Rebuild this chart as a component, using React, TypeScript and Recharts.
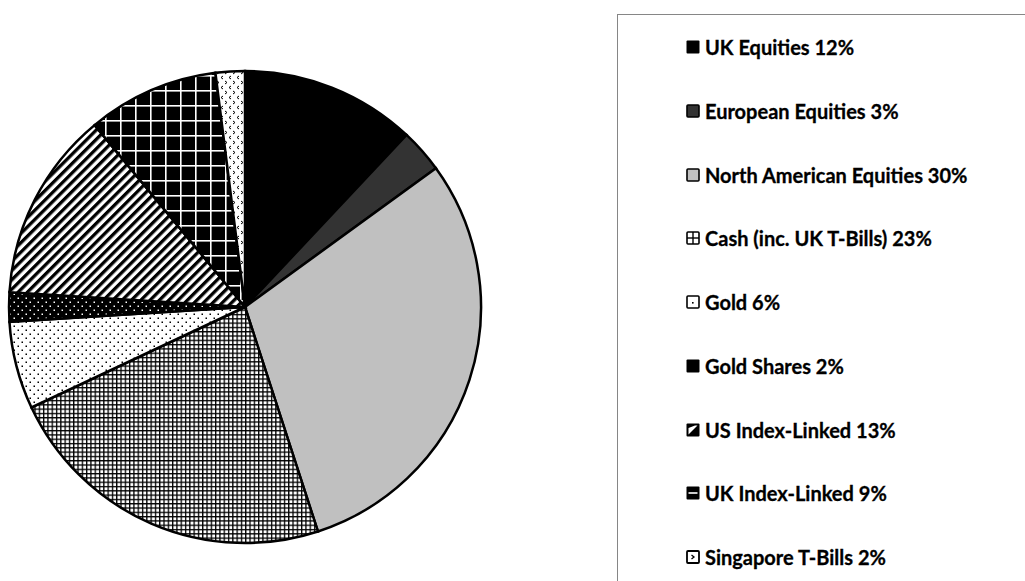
import React from "react";
import { PieChart, Pie, Cell, Legend } from "recharts";

const categories = [
  "UK Equities",
  "European Equities",
  "North American Equities",
  "Cash (inc. UK T-Bills)",
  "Gold",
  "Gold Shares",
  "US Index-Linked",
  "UK Index-Linked",
  "Singapore T-Bills",
];
const values = [12, 3, 30, 23, 6, 2, 13, 9, 2];
const fills = [
  "#000000",
  "#333333",
  "#c0c0c0",
  "url(#patCash)",
  "url(#patGold)",
  "url(#patGoldShares)",
  "url(#patUSIL)",
  "url(#patUKIL)",
  "url(#patSing)",
];
const iconKinds = ["solid", "dark", "light", "cash", "gold", "solid", "usil", "ukil", "sing"];

const data = categories.map((name, i) => ({ name, value: values[i] }));

const Icon = ({ kind }: { kind: string }) => {
  const s = 14;
  let inner: React.ReactNode = null;
  if (kind === "solid") inner = <rect x={0.5} y={0.5} width={13} height={13} rx={1} fill="#000" />;
  else if (kind === "dark")
    inner = <rect x={1} y={1} width={12} height={12} rx={1} fill="#333" stroke="#000" strokeWidth={1.6} />;
  else if (kind === "light")
    inner = <rect x={1} y={1} width={12} height={12} rx={1} fill="#c0c0c0" stroke="#000" strokeWidth={1.6} />;
  else if (kind === "cash")
    inner = (
      <g>
        <rect x={1} y={1} width={12} height={12} rx={1} fill="#fff" stroke="#000" strokeWidth={1.6} />
        <line x1={7} y1={1} x2={7} y2={13} stroke="#000" strokeWidth={1.4} />
        <line x1={1} y1={7} x2={13} y2={7} stroke="#000" strokeWidth={1.4} />
      </g>
    );
  else if (kind === "gold")
    inner = (
      <g>
        <rect x={1} y={1} width={12} height={12} rx={1} fill="#fff" stroke="#000" strokeWidth={1.6} />
        <rect x={6} y={7} width={1.6} height={1.6} fill="#000" />
      </g>
    );
  else if (kind === "usil")
    inner = (
      <g>
        <rect x={0.5} y={0.5} width={13} height={13} rx={1} fill="#000" />
        <polygon points="2.5,11.5 2.5,5 9,2.5 11.5,2.5" fill="#fff" />
      </g>
    );
  else if (kind === "ukil")
    inner = (
      <g>
        <rect x={0.5} y={0.5} width={13} height={13} rx={1} fill="#000" />
        <rect x={2.5} y={6.2} width={9} height={1.6} fill="#fff" />
      </g>
    );
  else if (kind === "sing")
    inner = (
      <g>
        <rect x={1} y={1} width={12} height={12} rx={1} fill="#fff" stroke="#000" strokeWidth={1.8} />
        <path d="M5.5,5 L8,7 L5.5,9" fill="none" stroke="#000" strokeWidth={1.3} />
      </g>
    );
  return (
    <svg width={s} height={s} style={{ display: "block" }}>
      {inner}
    </svg>
  );
};

const LegendContent = () => (
  <div style={{ position: "relative", width: "100%", height: "100%" }}>
    {categories.map((name, i) => (
      <div
        key={name}
        style={{
          position: "absolute",
          left: 68,
          top: 20 + i * 63.75,
          height: 24,
          display: "flex",
          alignItems: "center",
          whiteSpace: "nowrap",
        }}
      >
        <Icon kind={iconKinds[i]} />
        <span
          style={{
            marginLeft: 5,
            fontFamily: "Lato, 'Open Sans', sans-serif",
            fontWeight: 700,
            fontSize: 20,
            color: "#000",
            WebkitTextStroke: "0.3px #000",
          }}
        >
          {name} {values[i]}%
        </span>
      </div>
    ))}
  </div>
);

export default function App() {
  return (
    <div
      style={{
        position: "absolute",
        left: 0,
        top: 0,
        width: 1025,
        height: 581,
        overflow: "hidden",
        background: "#fff",
      }}
    >
      <PieChart width={1025} height={581} margin={{ top: 0, right: 0, bottom: 0, left: 0 }}>
        <defs>
          <pattern id="patCash" patternUnits="userSpaceOnUse" width={4.3} height={4.3}>
            <rect width={4.3} height={4.3} fill="#fff" />
            <rect x={0} y={0} width={4.3} height={1.3} fill="#000" />
            <rect x={0} y={0} width={1.3} height={4.3} fill="#000" />
          </pattern>
          <pattern id="patGold" patternUnits="userSpaceOnUse" width={8} height={8}>
            <rect width={8} height={8} fill="#fff" />
            <rect x={1.5} y={1.5} width={1.5} height={1.5} fill="#000" />
            <rect x={5.5} y={5.5} width={1.5} height={1.5} fill="#000" />
          </pattern>
          <pattern id="patGoldShares" patternUnits="userSpaceOnUse" width={8} height={8}>
            <rect width={8} height={8} fill="#000" />
            <rect x={1.5} y={1.5} width={1.5} height={1.5} fill="#fff" />
            <rect x={5.5} y={5.5} width={1.5} height={1.5} fill="#fff" />
          </pattern>
          <pattern
            id="patUSIL"
            patternUnits="userSpaceOnUse"
            width={6.6}
            height={6.6}
            patternTransform="rotate(45)"
          >
            <rect width={6.6} height={6.6} fill="#fff" />
            <rect x={0} y={0} width={3.3} height={6.6} fill="#000" />
          </pattern>
          <pattern id="patUKIL" patternUnits="userSpaceOnUse" width={15} height={15}>
            <rect width={15} height={15} fill="#000" />
            <rect x={0} y={0} width={15} height={1.6} fill="#fff" />
            <rect x={0} y={0} width={1.6} height={15} fill="#fff" />
          </pattern>
          <pattern id="patSing" patternUnits="userSpaceOnUse" width={8} height={10}>
            <rect width={8} height={10} fill="#fff" />
            <path d="M1,1 L3,2.5 L1,4" fill="none" stroke="#000" strokeWidth={1} />
            <path d="M7,6 L5,7.5 L7,9" fill="none" stroke="#000" strokeWidth={1} />
          </pattern>
        </defs>
        <Pie
          data={data}
          dataKey="value"
          nameKey="name"
          cx={245}
          cy={307}
          outerRadius={236}
          innerRadius={0}
          startAngle={90}
          endAngle={-270}
          stroke="#000"
          strokeWidth={2.5}
          isAnimationActive={false}
          label={false}
          labelLine={false}
        >
          {data.map((d, i) => (
            <Cell key={d.name} fill={fills[i]} stroke="#000" strokeWidth={2.5} />
          ))}
        </Pie>
        <Legend
          layout="vertical"
          align="right"
          verticalAlign="top"
          content={<LegendContent />}
          wrapperStyle={{
            position: "absolute",
            left: 617,
            top: 14,
            width: 430,
            height: 600,
            border: "1px solid #868686",
            boxSizing: "border-box",
          }}
        />
      </PieChart>
    </div>
  );
}
